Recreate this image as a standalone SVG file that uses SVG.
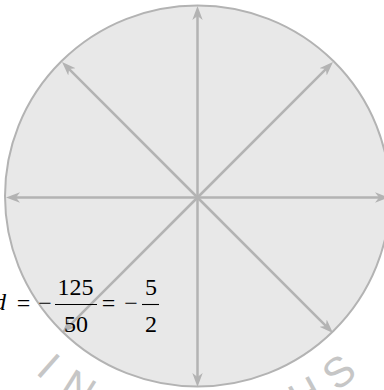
<svg xmlns="http://www.w3.org/2000/svg" width="384" height="390" viewBox="0 0 384 390">
<style>
.wm{font-family:"Liberation Sans",Arial,sans-serif;font-size:42px;fill:#c6c6c6;text-anchor:middle}
.eq{font-family:"Liberation Serif","Times New Roman",serif;font-size:24px;fill:#000;text-anchor:middle}
.arr{stroke:#b3b3b3;stroke-width:2.5;fill:none;marker-end:url(#ah)}
.bar{stroke:#000;stroke-width:1.1}
</style>
<defs>
<marker id="ah" markerUnits="userSpaceOnUse" markerWidth="16" markerHeight="12" refX="6" refY="6" orient="auto" viewBox="0 0 16 12">
<path d="M14,6 L0,0.8 L4,6 L0,11.2 z" fill="#b3b3b3"/>
</marker>
</defs>
<rect width="384" height="390" fill="#fff"/>
<g id="disk">
<ellipse cx="197.5" cy="196" rx="192.5" ry="190.5" fill="#e8e8e8" stroke="#b3b3b3" stroke-width="2"/>
</g>
<g id="arrows">
<line class="arr" x1="197.5" y1="197.5" x2="197.5" y2="14"/>
<line class="arr" x1="197.5" y1="197.5" x2="197.5" y2="379"/>
<line class="arr" x1="197.5" y1="197.5" x2="14" y2="197.5"/>
<line class="arr" x1="197.5" y1="197.5" x2="381" y2="197.5"/>
<line class="arr" x1="197.5" y1="197.5" x2="67.7" y2="67.7"/>
<line class="arr" x1="197.5" y1="197.5" x2="327.3" y2="67.7"/>
<line class="arr" x1="197.5" y1="197.5" x2="67.7" y2="327.3"/>
<line class="arr" x1="197.5" y1="197.5" x2="327.3" y2="327.3"/>
</g>
<g id="equation">
<text class="eq" x="0" y="310" font-style="italic">d</text>
<text class="eq" x="23.5" y="311">=</text>
<text class="eq" x="45" y="311">−</text>
<line class="bar" x1="55" y1="304.5" x2="97" y2="304.5"/>
<text class="eq" x="75.5" y="295">125</text>
<text class="eq" x="76" y="332">50</text>
<text class="eq" x="108.5" y="311">=</text>
<text class="eq" x="131" y="311">−</text>
<line class="bar" x1="142" y1="304.5" x2="159" y2="304.5"/>
<text class="eq" x="151" y="295">5</text>
<text class="eq" x="151" y="332">2</text>
</g>
<g id="watermark">
<text class="wm" x="197.5" y="436.5" transform="rotate(41.5 197.5 197.5)">I</text>
<text class="wm" x="197.5" y="436.5" transform="rotate(32 197.5 197.5)">N</text>
<text class="wm" x="197.5" y="436.5" transform="rotate(-28.7 197.5 197.5)">H</text>
<text class="wm" x="197.5" y="436.5" transform="rotate(-39 197.5 197.5)">S</text>
</g>
</svg>
